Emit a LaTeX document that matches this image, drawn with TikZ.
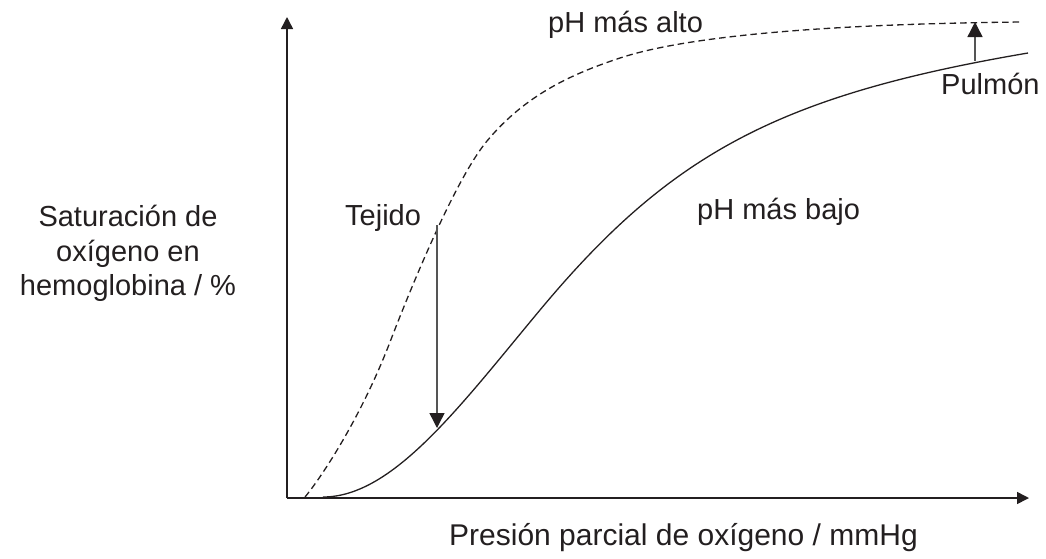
\documentclass[tikz,border=0pt]{standalone}
\usepackage{fontspec}
\setmainfont{Liberation Sans}
\usetikzlibrary{arrows.meta}
\definecolor{ink}{HTML}{231F20}
\definecolor{shaft}{HTML}{555555}
\tikzset{
  axisline/.style={draw=ink, line width=1.5pt, -{Triangle[width=12pt,length=12pt]}},
  curve/.style={draw=ink, line width=1.3pt},
  dashcurve/.style={curve, dash pattern=on 6.5pt off 4pt},
  shiftarrow/.style={draw=shaft, line width=1.4pt, -{Triangle[width=15pt,length=15pt,color=ink]}},
  lbl/.style={anchor=base west, inner sep=0pt, text=ink, font=\fontsize{29}{34}\selectfont},
}
\begin{document}
\begin{tikzpicture}[x=1pt,y=-1pt]
\useasboundingbox (0,0) rectangle (1046,558);
% axes
\coordinate (O) at (287,498);
\coordinate (ytop) at (287,17);
\coordinate (xend) at (1029,498);
\draw[axisline] (O) -- (ytop);
\draw[axisline] (O) -- (xend);
% lower pH curve (solid)
\coordinate (s0) at (323,497);
\coordinate (s1) at (540,310);
\coordinate (s2) at (1028,53);
\draw[curve] (s0) .. controls (393,497) and (460,406) .. (s1)
                  .. controls (670,154) and (778,95.5) .. (s2);
% higher pH curve (dashed)
\coordinate (d0) at (305,497);
\coordinate (d1) at (390,342);
\coordinate (d2) at (487,141);
\coordinate (d3) at (620,58);
\coordinate (d4) at (1022,22);
\draw[dashcurve] (d0) .. controls (320,479) and (360,420) .. (d1)
                      .. controls (415,277) and (457,177) .. (d2)
                      .. controls (527,93) and (575,73) .. (d3)
                      .. controls (700,31.6) and (872,23.5) .. (d4);
% shift arrows
\coordinate (tejA) at (437,225);
\coordinate (tejB) at (437,428);
\draw[shiftarrow] (tejA) -- (tejB);
\coordinate (pulA) at (975,61);
\coordinate (pulB) at (975,22);
\draw[shiftarrow] (pulA) -- (pulB);
% labels
\node[lbl] (alto) at (548,32) {pH más alto};
\node[lbl] (bajo) at (697,219) {pH más bajo};
\node[lbl] (tej) at (345,225) {Tejido};
\node[lbl] (pul) at (941,94) {Pulmón};
\node[lbl, font=\fontsize{30}{34}\selectfont] (xlab) at (449,545) {Presión parcial de oxígeno / mmHg};
\node[anchor=north, inner sep=0pt, text=ink, align=center,
      font=\fontsize{29}{34.5}\selectfont] (ylab) at (128,205)
  {Saturación de\\oxígeno en\\hemoglobina / \%};
\end{tikzpicture}
\end{document}
